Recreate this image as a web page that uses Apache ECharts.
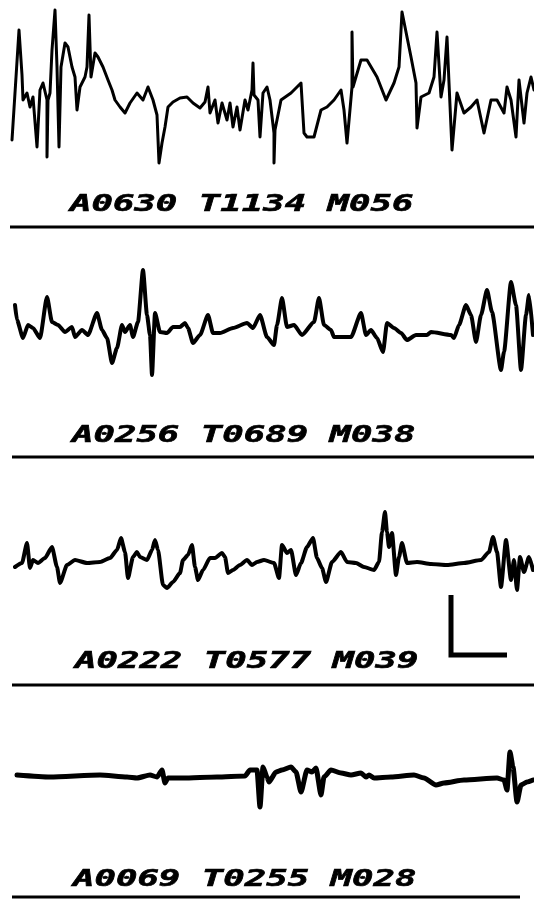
<!DOCTYPE html>
<html>
<head>
<meta charset="utf-8">
<script src="https://cdn.jsdelivr.net/npm/echarts@6/dist/echarts.min.js"></script>
<style>
html,body{margin:0;padding:0;background:#fff;}
#chart{width:534px;height:899px;}
</style>
</head>
<body>
<div id="chart"></div>
<script>
// Trace 1 (time sample, amplitude)
const trace1 = [[12,-40],[19,70],[22,25],[23,0],[27,7],[30,-7],[33,3],[37,-47],[40,10],[43,17],[47,0],[47,-57],[48,0],[50,7],[52,50],[55,90],[57,33],[59,-47],[61,33],[65,57],[68,53],[72,33],[75,23],[77,-10],[80,13],[85,23],[87,33],[89,85],[91,23],[95,47],[98,43],[103,33],[108,20],[112,10],[115,0],[120,-7],[125,-13],[130,-3],[137,7],[143,0],[148,13],[153,0],[157,-15],[159,-63],[162,-43],[165,-27],[168,-7],[173,-2],[180,2],[187,3],[193,-3],[200,-8],[205,-2],[208,13],[210,-13],[215,0],[218,-23],[222,-3],[227,-20],[230,-3],[233,-27],[237,-7],[240,-30],[245,0],[248,-10],[252,10],[253,37],[254,5],[258,0],[260,-37],[263,7],[267,13],[270,0],[274,-33],[274,-63],[275,-30],[281,0],[291,7],[301,17],[304,-33],[307,-37],[314,-37],[321,-10],[327,-7],[334,0],[341,10],[344,-10],[347,-43],[352,13],[352,68],[353,13],[361,40],[367,40],[377,23],[386,0],[394,17],[399,33],[402,88],[411,43],[416,17],[417,-28],[421,3],[429,7],[434,23],[437,68],[441,3],[444,20],[447,63],[449,17],[452,-50],[457,7],[464,-13],[471,-7],[477,0],[484,-33],[491,0],[497,0],[504,-13],[507,13],[511,0],[516,-37],[519,20],[524,-23],[527,7],[531,23],[534,10]];
const trace2 = [[15,25],[17,10],[23,-8],[28,5],[33,2],[40,-8],[47,33],[52,8],[58,5],[65,-2],[72,3],[75,-7],[82,0],[88,-5],[97,17],[102,0],[107,-8],[112,-33],[117,-18],[122,5],[125,-2],[130,5],[133,-7],[138,8],[143,60],[147,15],[150,-5],[152,-45],[155,17],[160,-2],[167,-3],[173,3],[180,3],[185,7],[188,2],[193,-13],[200,-5],[208,15],[213,-3],[220,-3],[233,2],[247,7],[253,2],[260,15],[267,-7],[274,-15],[277,5],[282,32],[287,3],[294,5],[302,-5],[314,8],[319,32],[324,5],[331,0],[334,-7],[342,-7],[351,-7],[361,17],[366,-5],[371,0],[377,-8],[383,-22],[387,7],[394,2],[401,-3],[407,-10],[416,-5],[427,-5],[431,-2],[451,-5],[454,-8],[459,5],[466,25],[471,15],[476,-12],[481,15],[487,40],[492,18],[501,-40],[504,-22],[511,48],[516,25],[521,-40],[526,15],[529,35],[533,-5]];
const trace3 = [[15,-5],[22,-1],[27,19],[30,-6],[33,2],[38,-1],[45,4],[52,15],[57,-5],[60,-21],[67,-3],[75,2],[87,-1],[100,0],[110,4],[117,12],[121,24],[125,10],[128,-16],[133,5],[137,10],[140,5],[147,2],[152,12],[155,22],[158,12],[163,-23],[167,-26],[173,-20],[180,-11],[183,2],[188,7],[192,17],[195,-5],[198,-18],[203,-8],[210,4],[215,4],[222,9],[225,5],[228,-11],[233,-8],[240,-3],[247,2],[252,-3],[257,0],[264,2],[274,-1],[279,-16],[282,17],[287,9],[291,12],[296,-13],[301,-1],[307,15],[313,24],[317,4],[322,-6],[326,-20],[332,0],[341,10],[347,0],[356,-1],[364,-5],[374,-8],[379,0],[382,30],[385,50],[387,30],[389,15],[392,29],[396,-13],[399,5],[402,19],[407,-1],[417,0],[431,-2],[447,-3],[464,-1],[481,2],[489,10],[493,25],[497,10],[501,-25],[506,22],[511,-18],[514,2],[517,-28],[520,5],[524,-10],[529,5],[533,-8]];
const trace4 = [[17,2],[50,0],[100,2],[127,0],[137,-1],[150,2],[157,0],[162,7],[165,-6],[168,-1],[183,-1],[217,0],[245,1],[250,7],[257,7],[260,-30],[263,10],[267,0],[269,-5],[276,5],[282,7],[291,10],[296,5],[301,-15],[307,7],[312,5],[316,9],[321,-18],[324,0],[331,7],[341,4],[351,2],[361,4],[366,0],[369,2],[374,-1],[391,0],[414,2],[424,-1],[436,-8],[444,-6],[464,-3],[497,-1],[504,-3],[507,-13],[510,25],[513,10],[517,-25],[521,-8],[527,-5],[533,-3]];
const labels = ["A0630 T1134 M056", "A0256 T0689 M038", "A0222 T0577 M039", "A0069 T0255 M028"];

const traces = [trace1, trace2, trace3, trace4];
const grids = [
  {top:0, height:175, min:-75, max:100, lw:3, smooth:0},
  {top:255, height:135, min:-60, max:75, lw:4, smooth:0.2},
  {top:500, height:110, min:-48, max:62, lw:4, smooth:0.2},
  {top:730, height:90, min:-43, max:47, lw:5, smooth:0.2}
];
const labelPos = [[70,205],[72,436],[75,662],[73,880]];
const rules = [[10,534,227],[12,534,457],[12,534,685],[12,520,897]];

const chart = echarts.init(document.getElementById('chart'), null, {renderer:'canvas'});
const option = {
  backgroundColor:'#ffffff',
  animation:false,
  grid: grids.map(g => ({left:0, right:0, top:g.top, height:g.height})),
  xAxis: grids.map((g,i) => ({type:'value', gridIndex:i, min:0, max:534, show:false})),
  yAxis: grids.map((g,i) => ({type:'value', gridIndex:i, min:g.min, max:g.max, show:false})),
  series: traces.map((t,i) => ({
    type:'line', xAxisIndex:i, yAxisIndex:i, data:t, showSymbol:false, symbol:'none',
    smooth:grids[i].smooth, smoothMonotone:'x',
    lineStyle:{color:'#000', width:grids[i].lw, join:'round', cap:'round'}
  })),
  graphic: [
    ...labels.map((txt,i) => ({
      type:'text', x:labelPos[i][0], y:labelPos[i][1], scaleX:1.55, scaleY:1,
      style:{text:txt, x:0, y:0, fill:'#000', fontSize:23, fontWeight:'bold', fontStyle:'italic',
        fontFamily:'"DejaVu Sans Mono", monospace', textVerticalAlign:'middle', verticalAlign:'middle',
        stroke:'#000', lineWidth:0.6}
    })),
    ...rules.map(r => ({
      type:'line', shape:{x1:r[0], y1:r[2], x2:r[1], y2:r[2]}, style:{stroke:'#000', lineWidth:3}
    })),
    {type:'polyline', shape:{points:[[451,595],[451,655],[507,655]]}, style:{stroke:'#000', lineWidth:5, fill:null}}
  ]
};
chart.setOption(option);
</script>
</body>
</html>
